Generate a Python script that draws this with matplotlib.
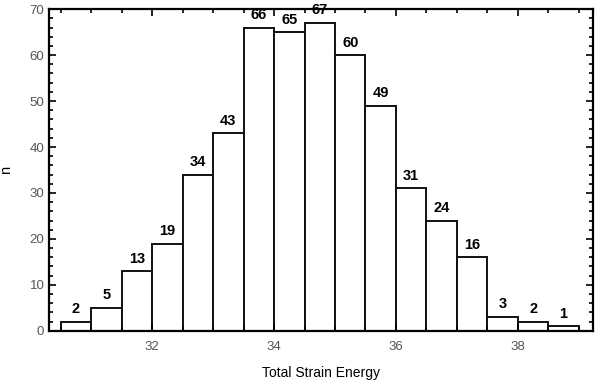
import numpy as np
import matplotlib
matplotlib.use('Agg')
from matplotlib import pyplot as plt
from matplotlib.ticker import MultipleLocator

plt.rcParams['font.family'] = ['Liberation Sans', 'DejaVu Sans']

bin_left = [30.5, 31.0, 31.5, 32.0, 32.5, 33.0, 33.5, 34.0, 34.5,
            35.0, 35.5, 36.0, 36.5, 37.0, 37.5, 38.0, 38.5]
counts = [2, 5, 13, 19, 34, 43, 66, 65, 67, 60, 49, 31, 24, 16, 3, 2, 1]
bin_width = 0.5

fig = plt.figure(figsize=(6, 3.82), dpi=100)
ax = fig.add_axes([0.082, 0.134, 0.906, 0.842])

bars = ax.bar(bin_left, counts, width=bin_width, align='edge',
              color='white', edgecolor='#111111', linewidth=1.4)

for x, n in zip(bin_left, counts):
    ax.annotate(str(n), (x + bin_width / 2, n), xytext=(0, 4),
                textcoords='offset points', ha='center', va='bottom',
                fontsize=10.5, fontweight='bold', clip_on=False)

ax.set_xlim(30.31, 39.23)
ax.set_ylim(0, 70)
ax.set_xticks([32, 34, 36, 38])
ax.xaxis.set_minor_locator(MultipleLocator(0.5))
ax.set_yticks(range(0, 71, 10))
ax.yaxis.set_minor_locator(MultipleLocator(2))
ax.tick_params(which='both', direction='in', top=True, right=True,
               labelsize=9.5, labelcolor='#555555', width=1.2)
ax.tick_params(which='major', length=5)
ax.tick_params(axis='x', which='major', pad=7)
ax.tick_params(which='minor', length=3)
for s in ax.spines.values():
    s.set_linewidth(1.6)

ax.set_xlabel('Total Strain Energy', fontsize=10, labelpad=10)
ax.set_ylabel('n', fontsize=10.5, labelpad=12)

plt.savefig('out.png', dpi=100)
